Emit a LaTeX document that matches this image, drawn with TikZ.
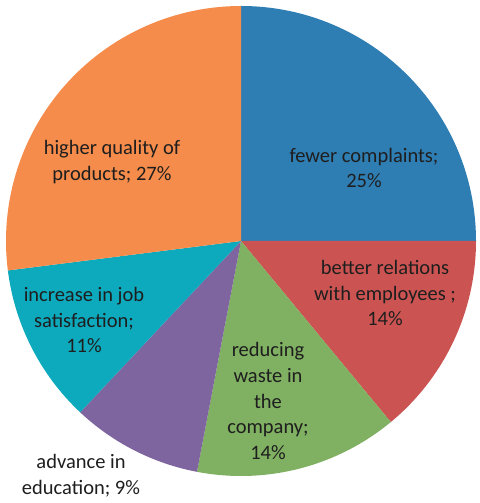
\documentclass[tikz,border=0pt]{standalone}
\usepackage{fontspec}
\setmainfont{Carlito}
\definecolor{cblue}{HTML}{2F7EB3}
\definecolor{corange}{HTML}{F58C4B}
\definecolor{cred}{HTML}{CB5452}
\definecolor{cgreen}{HTML}{80B062}
\definecolor{cpurple}{HTML}{7F65A0}
\definecolor{cteal}{HTML}{0DA9BD}
\definecolor{ctext}{HTML}{1E1E1E}
\begin{document}
\begin{tikzpicture}[x=1pt,y=1pt,
  lbl/.style={align=center,text=ctext,font=\fontsize{20.5}{25.7}\selectfont,inner sep=0pt}]
\useasboundingbox (0,0) rectangle (479,503);
\coordinate (C) at (241,262);
\def\R{235pt}
\fill[cblue] (C) -- ++(90:\R) arc[start angle=90,end angle=0,radius=\R] -- cycle;
\fill[cred] (C) -- ++(0:\R) arc[start angle=0,end angle=-50.4,radius=\R] -- cycle;
\fill[cgreen] (C) -- ++(-50.4:\R) arc[start angle=-50.4,end angle=-100.8,radius=\R] -- cycle;
\fill[cpurple] (C) -- ++(-100.8:\R) arc[start angle=-100.8,end angle=-133.2,radius=\R] -- cycle;
\fill[cteal] (C) -- ++(-133.2:\R) arc[start angle=-133.2,end angle=-172.8,radius=\R] -- cycle;
\fill[corange] (C) -- ++(-172.8:\R) arc[start angle=-172.8,end angle=-270,radius=\R] -- cycle;
\node[lbl] (fc) at (364,335) {fewer complaints;\\25\%};
\node[lbl] (hq) at (112,341) {higher quality of\\products; 27\%};
\node[lbl] (br) at (385,210) {better relations\\with employees ;\\14\%};
\node[lbl] (ij) at (84,183) {increase in job\\satisfaction;\\11\%};
\node[lbl] (rw) at (268,102) {reducing\\waste in\\the\\company;\\14\%};
\node[lbl] (ae) at (81,27) {advance in\\education; 9\%};
\end{tikzpicture}
\end{document}
